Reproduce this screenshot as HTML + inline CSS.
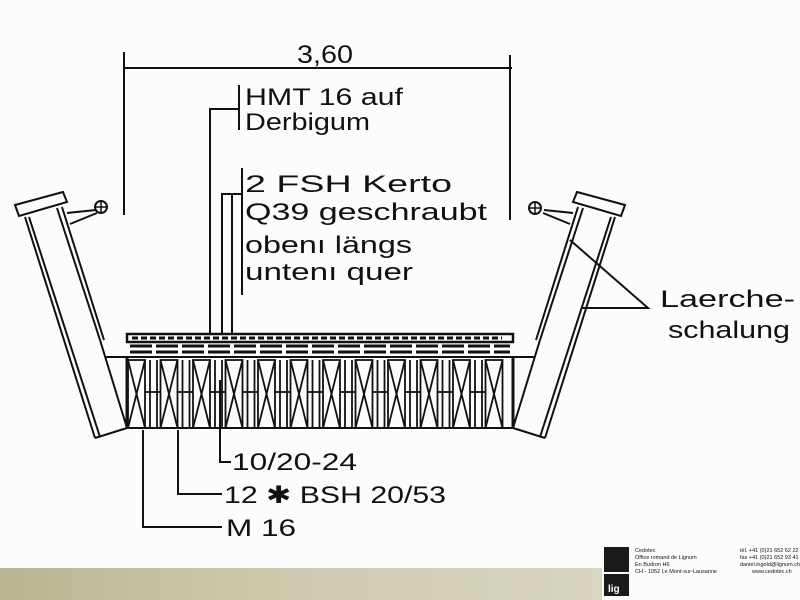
<!DOCTYPE html>
<html><head><meta charset="utf-8"><style>
html,body{margin:0;padding:0;background:#fdfdfb;}
svg{display:block}
text{font-family:"Liberation Sans",sans-serif;fill:#111}
</style></head><body>
<svg width="800" height="600" viewBox="0 0 800 600" xmlns="http://www.w3.org/2000/svg">
<defs>
<linearGradient id="bg" x1="0" x2="1" y1="0" y2="0">
<stop offset="0" stop-color="#b9b594"/><stop offset="0.5" stop-color="#cfcbb0"/><stop offset="1" stop-color="#d8d5c0"/>
</linearGradient>
</defs>
<rect width="800" height="600" fill="#fcfcfa"/>
<rect x="0" y="568" width="602" height="32" fill="url(#bg)"/>
<g stroke="#111" stroke-width="2" fill="none">
<!-- dimension -->
<line x1="124" y1="68" x2="512" y2="68"/>
<line x1="124" y1="52" x2="124" y2="215"/>
<line x1="510" y1="55" x2="510" y2="220"/>
<!-- leaders top -->
<line x1="239" y1="85" x2="239" y2="130"/>
<polyline points="239,109 210,109 210,335"/>
<line x1="242" y1="168" x2="242" y2="295"/>
<polyline points="242,194 222,194 222,335"/>
<line x1="232" y1="194" x2="232" y2="335"/>
<!-- left post -->
<polygon points="15,205 63,192 67,202 19,216"/>
<line x1="25" y1="217" x2="95" y2="438"/>
<line x1="29" y1="217" x2="100" y2="437"/>
<line x1="57" y1="208" x2="100" y2="340"/>
<line x1="62" y1="207" x2="104" y2="340"/>
<line x1="100" y1="340" x2="127" y2="428"/>
<line x1="95" y1="438" x2="127" y2="428"/>
<polyline points="67,213 96,210"/><polyline points="70,224 97,213"/>
<circle cx="101" cy="207" r="6"/>
<line x1="95" y1="207" x2="107" y2="207" stroke-width="1.5"/><line x1="101" y1="201" x2="101" y2="213" stroke-width="1.5"/>
<!-- right post -->
<polygon points="625,205 577,192 573,202 621,216"/>
<line x1="615" y1="217" x2="545" y2="438"/>
<line x1="611" y1="217" x2="540" y2="437"/>
<line x1="583" y1="208" x2="540" y2="340"/>
<line x1="578" y1="207" x2="536" y2="340"/>
<line x1="540" y1="340" x2="513" y2="428"/>
<line x1="545" y1="438" x2="513" y2="428"/>
<polyline points="573,213 544,210"/><polyline points="570,224 543,213"/>
<circle cx="535" cy="208" r="6"/>
<line x1="529" y1="208" x2="541" y2="208" stroke-width="1.5"/><line x1="535" y1="202" x2="535" y2="214" stroke-width="1.5"/>
<polyline points="570,240 648,308 582,308"/>
<!-- horizontal base line -->
<line x1="105" y1="357" x2="535" y2="357"/>
<!-- deck -->
<rect x="127" y="334" width="386" height="8" stroke-width="2.5"/>
<path d="M132,338 h370" stroke-dasharray="6,3" stroke-width="3"/>
<path d="M130,346 h380 M130,352 h380" stroke-dasharray="22,4" stroke-width="3"/>
<line x1="127" y1="428" x2="513" y2="428"/>
<line x1="127" y1="357" x2="127" y2="428" stroke-width="3"/>
<line x1="513" y1="357" x2="513" y2="428" stroke-width="3"/>
</g>
<g stroke="#111" stroke-width="1.8" fill="none" id="beams">
<g id="b"><rect x="128" y="360" width="17" height="68"/><line x1="128" y1="360" x2="145" y2="428"/><line x1="145" y1="360" x2="128" y2="428"/><line x1="145" y1="392" x2="160" y2="392"/><line x1="150" y1="360" x2="150" y2="428"/><line x1="157" y1="360" x2="157" y2="428"/></g>
<use href="#b" x="32.5"/><use href="#b" x="65"/><use href="#b" x="97.5"/><use href="#b" x="130"/><use href="#b" x="162.5"/><use href="#b" x="195"/><use href="#b" x="227.5"/><use href="#b" x="260"/><use href="#b" x="292.5"/><use href="#b" x="325"/>
<rect x="485.5" y="360" width="17" height="68"/><line x1="485.5" y1="360" x2="502.5" y2="428"/><line x1="502.5" y1="360" x2="485.5" y2="428"/>
</g>
<g stroke="#111" stroke-width="2" fill="none">
<polyline points="220,380 220,462 231,462"/>
<polyline points="178,430 178,494 222,494"/>
<polyline points="143,430 143,527 222,527"/>
</g>
<text x="297" y="63" font-size="25" textLength="56" lengthAdjust="spacingAndGlyphs">3,60</text>
<g font-size="24">
<text x="245" y="105" textLength="158" lengthAdjust="spacingAndGlyphs">HMT 16 auf</text>
<text x="245" y="130" textLength="125" lengthAdjust="spacingAndGlyphs">Derbigum</text>
<text x="245" y="192" textLength="207" lengthAdjust="spacingAndGlyphs">2  FSH Kerto</text>
<text x="245" y="220" textLength="242" lengthAdjust="spacingAndGlyphs">Q39 geschraubt</text>
<text x="245" y="253" textLength="167" lengthAdjust="spacingAndGlyphs">obenı längs</text>
<text x="245" y="280" textLength="168" lengthAdjust="spacingAndGlyphs">untenı quer</text>
<text x="660" y="307" textLength="135" lengthAdjust="spacingAndGlyphs">Laerche-</text>
<text x="668" y="338" textLength="122" lengthAdjust="spacingAndGlyphs">schalung</text>
<text x="232" y="470" textLength="125" lengthAdjust="spacingAndGlyphs">10/20-24</text>
<text x="224" y="503" textLength="222" lengthAdjust="spacingAndGlyphs">12 ✱ BSH 20/53</text>
<text x="226" y="536" textLength="70" lengthAdjust="spacingAndGlyphs">M 16</text>
</g>
<!-- logo -->
<rect x="604" y="547" width="25" height="25" fill="#1a1a1a"/>
<rect x="604" y="574" width="25" height="22" fill="#1a1a1a"/>
<text x="608" y="592" font-size="10" fill="#fff" style="fill:#fff" font-weight="bold">lig</text>
<g font-size="5.5" style="fill:#444">
<text x="635" y="552">Cedotec</text>
<text x="635" y="559">Office romand de Lignum</text>
<text x="635" y="566">En Budron H6</text>
<text x="635" y="573">CH - 1052 Le Mont-sur-Lausanne</text>
<text x="740" y="552">tél. +41 (0)21 652 62 22</text>
<text x="740" y="559">fax +41 (0)21 652 93 41</text>
<text x="740" y="566">daniel.ingold@lignum.ch</text>
<text x="752" y="573">www.cedotec.ch</text>
</g>
</svg>
</body></html>
